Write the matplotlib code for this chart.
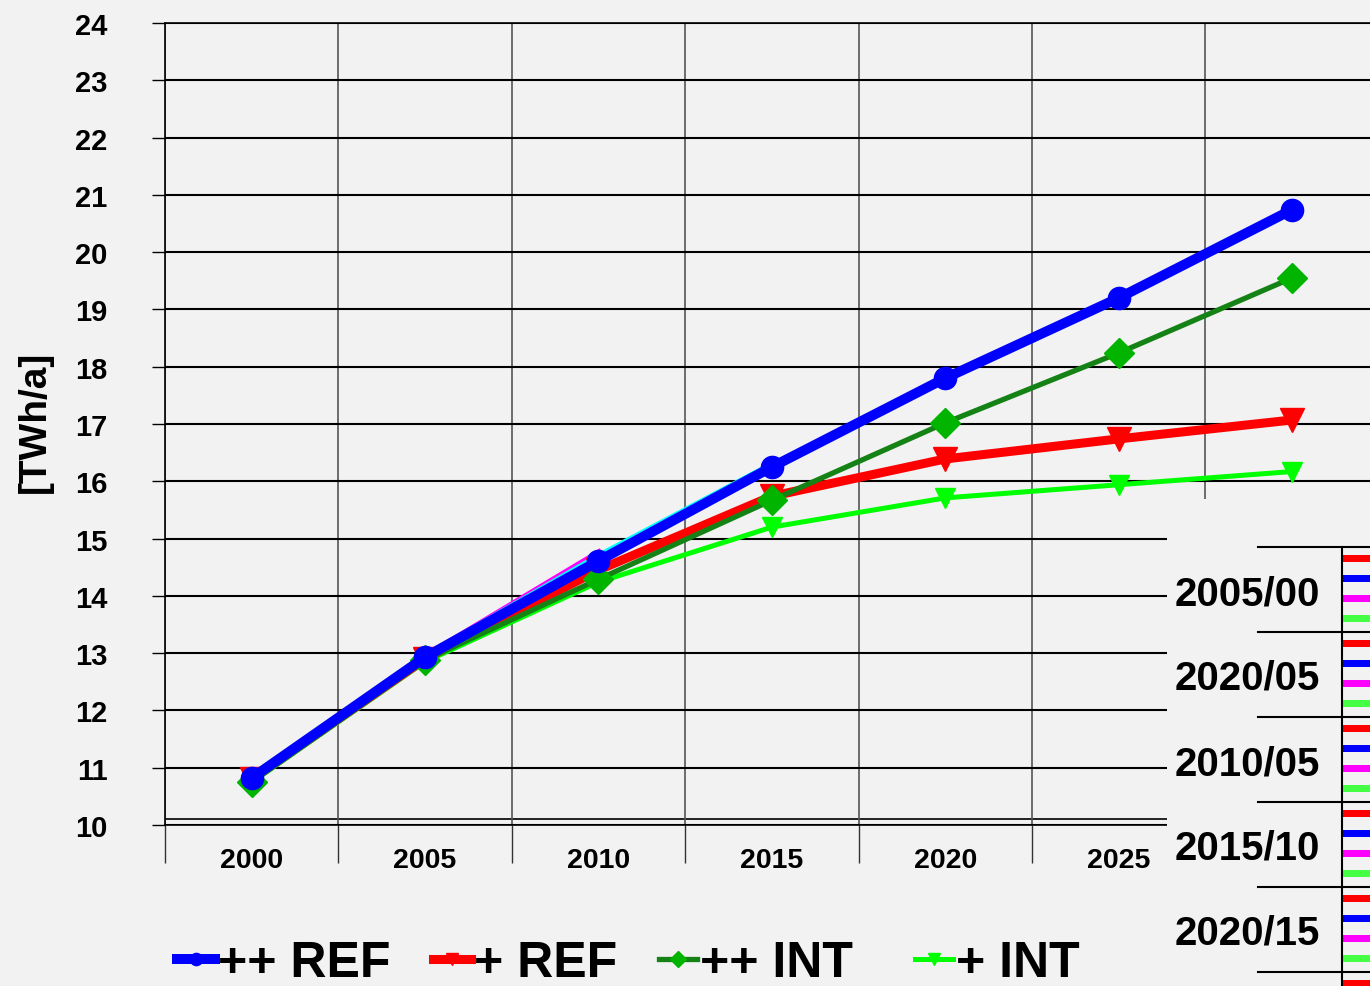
import matplotlib
matplotlib.use('Agg')
import matplotlib.pyplot as plt
from matplotlib.patches import Rectangle

# values
years = ['2000', '2005', '2010', '2015', '2020', '2025', '2030']
ref_pp = [10.82, 12.93, 14.61, 16.25, 17.80, 19.20, 20.74]
ref_p = [10.80, 12.90, 14.45, 15.74, 16.39, 16.74, 17.07]
int_pp = [10.75, 12.88, 14.29, 15.67, 17.02, 18.24, 19.55]
int_p = [10.75, 12.85, 14.24, 15.20, 15.71, 15.94, 16.17]
hist_cyan = [10.82, 12.93, 14.68, 16.28]
hist_magenta = [10.82, 12.93, 14.74]
series_labels = ['++ REF', '+ REF', '++ INT', '+ INT']
table_rows = ['2005/00', '2020/05', '2010/05', '2015/10', '2020/15']
table_colors = ['#ff0000', '#0000ff', '#ff00ff', '#44ff44']

plt.rcParams['font.family'] = ['Liberation Sans', 'DejaVu Sans']
plt.rcParams['font.weight'] = 'bold'

bg = '#f2f2f2'
W, H = 1370, 987
fig = plt.figure(figsize=(13.7, 9.87), dpi=100, facecolor=bg)
ax = fig.add_axes([165 / W, 1 - 826 / H, 7 * 173.4 / W, (826 - 24) / H])
ax.set_facecolor(bg)

x = list(range(len(years)))
ax.plot(x[:3], hist_magenta, color='#ff00ff', lw=5.5, zorder=3)
ax.plot(x[:4], hist_cyan, color='#00ffff', lw=5.5, zorder=3)
l_int_p = ax.plot(x, int_p, color='#00ff00', lw=3.6, marker='v', ms=15,
                  mfc='#00ff00', mec='#00ff00', zorder=4)[0]
l_ref_p = ax.plot(x, ref_p, color='#ff0000', lw=6.5, marker='v', ms=17,
                  zorder=5)[0]
l_int_pp = ax.plot(x, int_pp, color='#148214', lw=3.8, marker='D', ms=15,
                   mfc='#00b400', mec='#00b400', zorder=6)[0]
l_ref_pp = ax.plot(x, ref_pp, color='#0000ff', lw=7.2, marker='o', ms=16,
                   zorder=7)[0]

ax.set_xlim(-0.5, len(years) - 0.5)
ax.set_ylim(10, 24)
ax.set_yticks(range(10, 25))
ax.set_xticks(x)
# the last year label is hidden behind the table in the reference
ax.set_xticklabels(years[:-1] + [''])
ax.set_xticks([i - 0.5 for i in x] + [len(years) - 0.5], minor=True)
ax.tick_params(axis='y', length=9.5, width=1, pad=32, labelsize=21, colors='black')
ax.tick_params(axis='x', which='major', length=0, pad=16, labelsize=20.5)
ax.tick_params(axis='x', which='minor', length=27, width=1, color='#333333')
ax.grid(axis='y', which='major', color='black', lw=1.5, zorder=1)
ax.grid(axis='x', which='minor', color='#555555', lw=1.2, zorder=1)
ax.axhline(10.1, color='black', lw=1.2, zorder=1)
for s in ax.spines.values():
    s.set_color('black')
    s.set_linewidth(1.2)

fig.text(35 / W, 1 - 422 / H, '[TWh/a]', rotation=90, ha='center', va='center',
         fontsize=28, fontweight='bold')

handles = [l_ref_pp, l_ref_p, l_int_pp, l_int_p]
leg_kw = dict(loc='center left', frameon=False, fontsize=36, handlelength=0.76,
              handletextpad=0.06, columnspacing=0.84, borderpad=0,
              borderaxespad=0, markerscale=0.55)
fig.legend(handles=handles[:3], labels=series_labels[:3], ncol=3,
           bbox_to_anchor=(177 / W, 1 - 964 / H), **leg_kw)
fig.legend(handles=handles[3:], labels=series_labels[3:], ncol=1,
           bbox_to_anchor=(915 / W, 1 - 964 / H), **leg_kw)

# partial table overlapping the lower right corner
ov = fig.add_axes([1167 / W, 0, 1 - 1167 / W, 1 - 500 / H])
ov.set_facecolor(bg)
ov.set_xlim(1167, 1370)
ov.set_ylim(987, 500)
ov.set_xticks([])
ov.set_yticks([])
for s in ov.spines.values():
    s.set_visible(False)
row_h = 85
top0 = 548
for i, row in enumerate(table_rows + ['']):
    top = top0 + row_h * i
    ov.plot([1258, 1370], [top, top], color='black', lw=1.5)
    if row:
        ov.text(1175, top + 46, row, fontsize=29, fontweight='bold',
                ha='left', va='center')
    for j, c in enumerate(table_colors):
        ov.add_patch(Rectangle((1343, top + 7.5 + 20 * j), 30, 7, color=c, lw=0))
ov.plot([1342, 1342], [top0, 987], color='black', lw=1.5)

fig.savefig('out.png', dpi=100, facecolor=bg)
